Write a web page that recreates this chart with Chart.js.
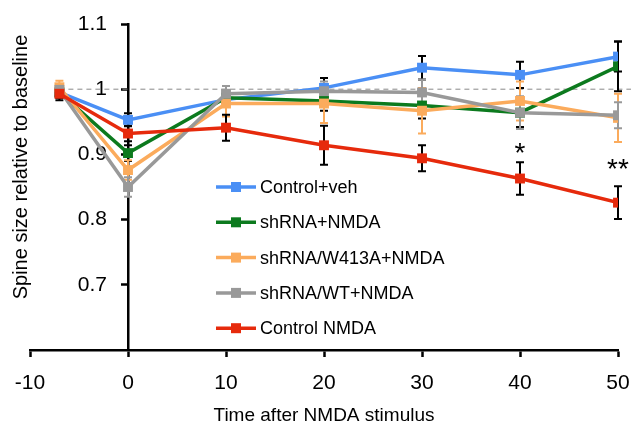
<!DOCTYPE html>
<html>
<head>
<meta charset="utf-8">
<script src="https://cdn.jsdelivr.net/npm/chart.js@4/dist/chart.umd.min.js"></script>
<style>
  html, body { margin: 0; padding: 0; background: #fff; }
  #wrap { position: relative; width: 631px; height: 430px; }
</style>
</head>
<body>
<div id="wrap"><canvas id="chart"></canvas></div>
<script>
// time points (min after NMDA)
const timePoints = [-7, 0, 10, 20, 30, 40, 50];

const controlVeh     = [0.995, 0.953, 0.984, 1.002, 1.033, 1.022, 1.050];
const controlVehErr  = [0.008, 0.010, 0.010, 0.015, 0.018, 0.020, 0.023];

const shrnaNmda      = [0.995, 0.902, 0.987, 0.982, 0.975, 0.964, 1.035];
const shrnaNmdaErr   = [0.008, 0.012, 0.010, 0.015, 0.020, 0.022, 0.038];

const w413aNmda      = [1.003, 0.876, 0.978, 0.978, 0.967, 0.982, 0.956];
const w413aNmdaErr   = [0.010, 0.015, 0.020, 0.030, 0.035, 0.030, 0.037];

const wtNmda         = [0.999, 0.850, 0.993, 0.997, 0.995, 0.964, 0.960];
const wtNmdaErr      = [0.008, 0.015, 0.012, 0.015, 0.020, 0.025, 0.020];

const controlNmda    = [0.993, 0.932, 0.941, 0.914, 0.894, 0.863, 0.826];
const controlNmdaErr = [0.010, 0.012, 0.020, 0.030, 0.020, 0.025, 0.025];

const seriesNames = ['Control+veh', 'shRNA+NMDA', 'shRNA/W413A+NMDA', 'shRNA/WT+NMDA', 'Control NMDA'];
const seriesColors = ['#4a8ff5', '#0c7a1e', '#fbab5c', '#999999', '#e62a0c'];
const errColors = ['#000', '#000', '#fbab5c', '#999999', '#000'];
const seriesValues = [controlVeh, shrnaNmda, w413aNmda, wtNmda, controlNmda];
const seriesErrors = [controlVehErr, shrnaNmdaErr, w413aNmdaErr, wtNmdaErr, controlNmdaErr];

// significance marks
const starX = [40, 50];
const starY = [0.911, 0.886];
const starText = ['*', '**'];

const baseline = 1.0;
const FONT = '"Liberation Sans", Arial, sans-serif';

const datasets = seriesNames.map((name, i) => ({
  label: name,
  data: timePoints.map((t, j) => ({ x: t, y: seriesValues[i][j] })),
  borderColor: seriesColors[i],
  backgroundColor: seriesColors[i],
  borderWidth: 3.5,
  pointStyle: 'rect',
  pointRadius: 7,
  pointHoverRadius: 7,
  pointBorderWidth: 0,
  tension: 0,
  order: 5 - i,
  errors: seriesErrors[i],
  errColor: errColors[i]
}));

const extras = {
  id: 'extras',
  beforeDatasetsDraw(chart) {
    const { ctx, scales: { x, y } } = chart;
    ctx.save();
    // dashed baseline
    ctx.strokeStyle = '#888';
    ctx.lineWidth = 1;
    ctx.setLineDash([5, 4]);
    const yb = y.getPixelForValue(baseline);
    ctx.beginPath();
    ctx.moveTo(x.getPixelForValue(timePoints[0]), yb);
    ctx.lineTo(chart.width, yb);
    ctx.stroke();
    ctx.setLineDash([]);
    // error bars
    chart.data.datasets.forEach(ds => {
      ctx.strokeStyle = ds.errColor;
      ctx.lineWidth = 2;
      ds.data.forEach((p, j) => {
        const px = x.getPixelForValue(p.x);
        const top = y.getPixelForValue(p.y + ds.errors[j]);
        const bot = y.getPixelForValue(p.y - ds.errors[j]);
        ctx.beginPath();
        ctx.moveTo(px, top); ctx.lineTo(px, bot);
        ctx.moveTo(px - 4, top); ctx.lineTo(px + 4, top);
        ctx.moveTo(px - 4, bot); ctx.lineTo(px + 4, bot);
        ctx.stroke();
      });
    });
    ctx.restore();
  },
  afterDraw(chart) {
    const { ctx, scales: { x, y } } = chart;
    ctx.save();
    // stars
    ctx.fillStyle = '#000';
    ctx.font = '28px ' + FONT;
    ctx.textAlign = 'center';
    ctx.textBaseline = 'middle';
    starText.forEach((s, i) => {
      ctx.fillText(s, x.getPixelForValue(starX[i]), y.getPixelForValue(starY[i]) + 7);
    });
    // legend
    ctx.font = '18px ' + FONT;
    ctx.textAlign = 'left';
    seriesNames.forEach((name, i) => {
      const ly = 187 + i * 35.3;
      ctx.strokeStyle = seriesColors[i];
      ctx.lineWidth = 3.5;
      ctx.beginPath();
      ctx.moveTo(216, ly); ctx.lineTo(256, ly);
      ctx.stroke();
      ctx.fillStyle = seriesColors[i];
      ctx.fillRect(231, ly - 5, 10, 10);
      ctx.fillStyle = '#000';
      ctx.fillText(name, 260, ly + 1);
    });
    // y axis title
    ctx.translate(21, 167);
    ctx.rotate(-Math.PI / 2);
    ctx.textAlign = 'center';
    ctx.font = '20px ' + FONT;
    ctx.fillText('Spine size relative to baseline', 0, 0);
    ctx.restore();
  }
};

new Chart(document.getElementById('chart'), {
  type: 'line',
  data: { datasets },
  options: {
    responsive: true,
    maintainAspectRatio: false,
    animation: false,
    layout: { padding: { left: 30, right: 0, top: 24, bottom: 3 } },
    plugins: { legend: { display: false }, tooltip: { enabled: false } },
    scales: {
      x: {
        type: 'linear',
        min: -10, max: 50,
        // tick padding gets added to the edge padding too; only keep room for half of "50"
        afterFit: s => { s.paddingRight = 13; },
        border: { display: true, color: '#000', width: 2.5 },
        grid: { display: true, drawOnChartArea: false, drawTicks: true, tickLength: 7, tickWidth: 2.5, tickColor: '#000' },
        ticks: { stepSize: 10, color: '#000', padding: 14, font: { family: FONT, size: 21 }, maxRotation: 0 },
        title: { display: true, text: 'Time after NMDA stimulus', color: '#000', font: { family: FONT, size: 19 }, padding: { top: -6, bottom: 0 } }
      },
      y: {
        position: { x: 0 },
        min: 0.6, max: 1.1,
        border: { display: true, color: '#000', width: 2.5 },
        grid: {
          display: true, drawOnChartArea: false, drawTicks: true, tickLength: 6, tickWidth: 2.5,
          tickColor: ctx => (ctx.tick && ctx.tick.value < 0.65) ? 'rgba(0,0,0,0)' : '#000'
        },
        ticks: {
          stepSize: 0.1, color: '#000', font: { family: FONT, size: 21 },
          // labels sit right-aligned on the axis line, so pad them off it
          callback: v => v < 0.65 ? '' : String(Math.round(v * 10) / 10) + '\u2002\u2002'
        }
      }
    }
  },
  plugins: [extras]
});
</script>
</body>
</html>
